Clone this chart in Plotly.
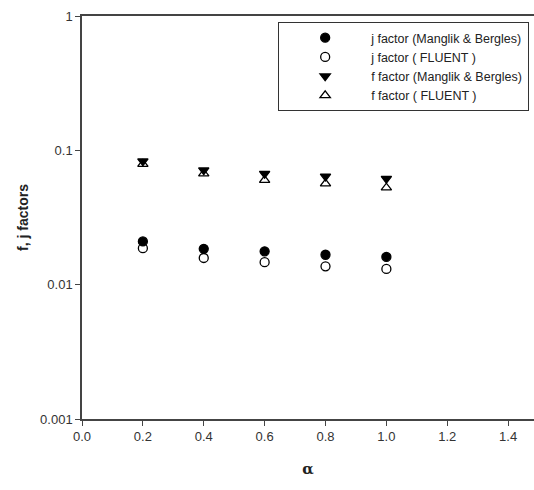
import plotly.graph_objects as go

alpha = [0.2, 0.4, 0.6, 0.8, 1.0]
j_manglik = [0.0210, 0.0185, 0.0177, 0.0167, 0.0161]
j_fluent = [0.0187, 0.0158, 0.0147, 0.0137, 0.0131]
f_manglik = [0.0830, 0.0712, 0.0670, 0.0640, 0.0615]
f_fluent = [0.0790, 0.0670, 0.0600, 0.0565, 0.0527]

x_ticks = [0.0, 0.2, 0.4, 0.6, 0.8, 1.0, 1.2, 1.4]
x_tick_labels = ["0.0", "0.2", "0.4", "0.6", "0.8", "1.0", "1.2", "1.4"]
y_ticks = [0.001, 0.01, 0.1, 1]
y_tick_labels = ["0.001", "0.01", "0.1", "1"]

series = [
    ("j factor (Manglik & Bergles)", j_manglik, "circle", "black"),
    ("j factor ( FLUENT )", j_fluent, "circle-open", "black"),
    ("f factor (Manglik & Bergles)", f_manglik, "triangle-down", "black"),
    ("f factor ( FLUENT )", f_fluent, "triangle-up-open", "black"),
]

tick_font = dict(family="Liberation Sans, Arial, sans-serif", size=13, color="#333")

fig = go.Figure()
for name, vals, sym, col in series:
    fig.add_trace(go.Scatter(
        x=alpha, y=vals, mode="markers", name=name,
        marker=dict(symbol=sym, size=9, color=col, line=dict(color=col, width=1.3)),
    ))

fig.update_layout(
    width=534, height=490,
    margin=dict(l=82, r=0, t=16, b=71, autoexpand=False),
    paper_bgcolor="white", plot_bgcolor="white",
    font=dict(family="Liberation Sans, Arial, sans-serif", size=12.5, color="#333"),
    showlegend=True,
    legend=dict(
        x=0.434, y=0.985, xanchor="left", yanchor="top",
        bordercolor="#333", borderwidth=1, bgcolor="white",
        font=dict(size=12.5, color="#222"),
        itemwidth=82, tracegroupgap=0,
    ),
    xaxis=dict(
        range=[0, 1.485], tickvals=x_ticks, ticktext=x_tick_labels, tickfont=tick_font,
        showline=True, linecolor="#444", linewidth=1.5, mirror=True,
        ticks="outside", ticklen=5, tickcolor="#444", tickwidth=1,
        showgrid=False, zeroline=False, automargin=False,
        title=dict(text="<b>α</b>", font=dict(size=15, color="#222", family="DejaVu Serif, serif"), standoff=20),
    ),
    yaxis=dict(
        type="log", range=[-3, 0], tickvals=y_ticks, ticktext=y_tick_labels, tickfont=tick_font,
        showline=True, linecolor="#444", linewidth=1.5, mirror=False,
        ticks="outside", ticklen=5, tickcolor="#444", tickwidth=1,
        showgrid=False, zeroline=False, automargin=False,
        title=dict(text="<b>f, j factors</b>", font=dict(size=14, color="#222"), standoff=8),
    ),
)

fig.write_html(
    "out.html",
    config={"displayModeBar": False},
    post_script="document.body.style.margin='0';document.body.style.overflow='hidden';",
)
